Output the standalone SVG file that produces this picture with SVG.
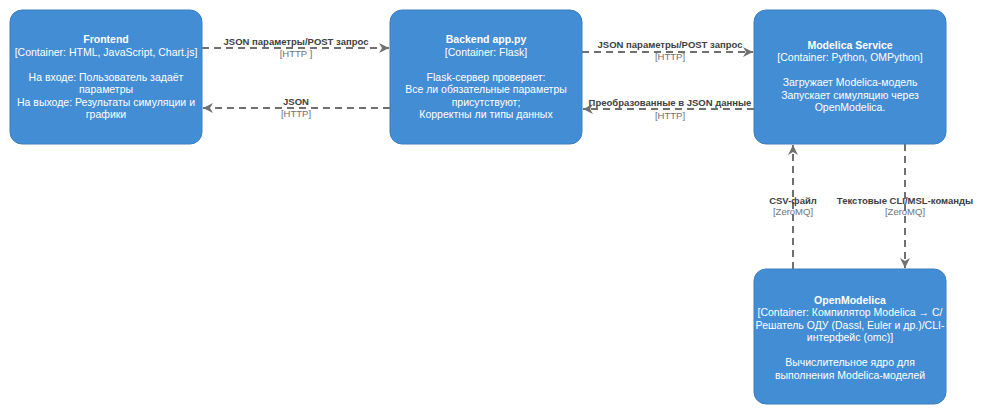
<svg xmlns="http://www.w3.org/2000/svg" width="982" height="416" viewBox="0 0 982 416">
<style>
.box{fill:#438DD5;stroke:#3C7FC0;stroke-width:1}
.t{font-family:"Liberation Sans",Arial,sans-serif;font-size:10.5px;fill:#FFFFFF;text-anchor:middle}
.b{font-weight:bold}
.edge{fill:none;stroke:#707070;stroke-width:2;stroke-dasharray:7 5}
.l1{font-family:"Liberation Sans",Arial,sans-serif;font-size:9.5px;font-weight:bold;fill:#404040;text-anchor:middle}
.l2{font-family:"Liberation Sans",Arial,sans-serif;font-size:9.5px;fill:#707070;text-anchor:middle}
</style>
<defs>
<marker id="arr" markerUnits="userSpaceOnUse" markerWidth="12" markerHeight="10" refX="10" refY="5" orient="auto">
<path d="M0,0 L10,5 L0,10 L3,5 Z" fill="#707070"/>
</marker>
</defs>
<rect width="982" height="416" fill="#FFFFFF"/>
<g id="connectors">
<line class="edge" x1="202" y1="48" x2="389" y2="48" marker-end="url(#arr)"/>
<text class="l1" x="296" y="45.4">JSON параметры/POST запрос</text>
<text class="l2" x="296" y="57.4">[HTTP ]</text>
<line class="edge" x1="390" y1="108" x2="203" y2="108" marker-end="url(#arr)"/>
<text class="l1" x="296" y="105.4">JSON</text>
<text class="l2" x="296" y="116.8">[HTTP]</text>
<line class="edge" x1="582" y1="52" x2="753" y2="52" marker-end="url(#arr)"/>
<text class="l1" x="670" y="48.4">JSON параметры/POST запрос</text>
<text class="l2" x="670" y="59.8">[HTTP]</text>
<line class="edge" x1="754" y1="109" x2="583" y2="109" marker-end="url(#arr)"/>
<text class="l1" x="670" y="106.4">Преобразованные в JSON данные</text>
<text class="l2" x="670" y="119.4">[HTTP]</text>
<line class="edge" x1="793" y1="269" x2="793" y2="145" marker-end="url(#arr)"/>
<text class="l1" x="793" y="204.4">CSV-файл</text>
<text class="l2" x="793" y="215.4">[ZeroMQ]</text>
<line class="edge" x1="905" y1="144" x2="905" y2="268" marker-end="url(#arr)"/>
<text class="l1" x="905" y="204.4">Текстовые CLI/MSL-команды</text>
<text class="l2" x="905" y="215.4">[ZeroMQ]</text>
</g>
<g id="frontend">
<rect class="box" x="10" y="10" width="192" height="134" rx="12"/>
<text class="t b" x="106" y="43.3">Frontend</text>
<text class="t" x="106" y="55.8">[Container: HTML, JavaScript, Chart.js]</text>
<text class="t" x="106" y="80.8">На входе: Пользователь задаёт</text>
<text class="t" x="106" y="93.3">параметры</text>
<text class="t" x="106" y="105.8">На выходе: Результаты симуляции и</text>
<text class="t" x="106" y="118.3">графики</text>
</g>
<g id="backend">
<rect class="box" x="390" y="10" width="192" height="134" rx="12"/>
<text class="t b" x="486" y="43.3">Backend app.py</text>
<text class="t" x="486" y="55.8">[Container: Flask]</text>
<text class="t" x="486" y="80.8">Flask-сервер проверяет:</text>
<text class="t" x="486" y="93.3">Все ли обязательные параметры</text>
<text class="t" x="486" y="105.8">присутствуют;</text>
<text class="t" x="486" y="118.3">Корректны ли типы данных</text>
</g>
<g id="modelica-service">
<rect class="box" x="754" y="10" width="192" height="134" rx="12"/>
<text class="t b" x="850" y="48.8">Modelica Service</text>
<text class="t" x="850" y="61.3">[Container: Python, OMPython]</text>
<text class="t" x="850" y="86.3">Загружает Modelica-модель</text>
<text class="t" x="850" y="98.8">Запускает симуляцию через</text>
<text class="t" x="850" y="111.3">OpenModelica.</text>
</g>
<g id="openmodelica">
<rect class="box" x="754" y="269" width="192" height="135" rx="12"/>
<text class="t b" x="850" y="303.8">OpenModelica</text>
<text class="t" x="850" y="316.3">[Container: Компилятор Modelica → C/</text>
<text class="t" x="850" y="328.8">Решатель ОДУ (Dassl, Euler и др.)/CLI-</text>
<text class="t" x="850" y="341.3">интерфейс (omc)]</text>
<text class="t" x="850" y="366.3">Вычислительное ядро для</text>
<text class="t" x="850" y="378.8">выполнения Modelica-моделей</text>
</g>
</svg>
